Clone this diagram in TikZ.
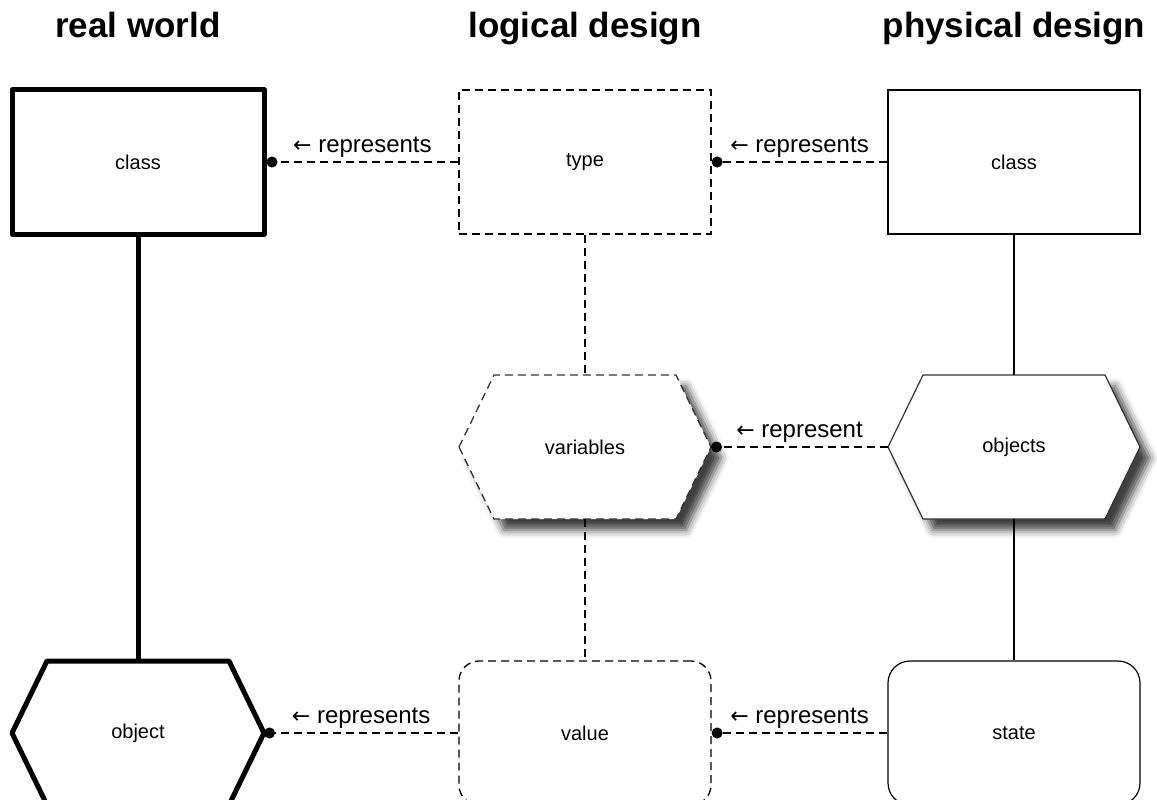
\documentclass[tikz,border=0pt]{standalone}
\usepackage{fontspec}
\setmainfont{Liberation Sans}
\newfontfamily\arrowfont{DejaVu Sans}
\usetikzlibrary{arrows.meta,shadows.blur,backgrounds}

% hexagon drawn over the bounding rectangle of a holder node
\newcommand\hexof[2]{%
  \path[#2] (#1.west) -- ([xshift=35pt]#1.north west) -- ([xshift=-35pt]#1.north east)
    -- (#1.east) -- ([xshift=-35pt]#1.south east) -- ([xshift=35pt]#1.south west) -- cycle;}
\newcommand\larrow{{\arrowfont\fontsize{22}{26}\selectfont ←}}

\tikzset{
  box/.style={draw, minimum width=252pt, minimum height=144pt, inner sep=0pt,
    font=\fontsize{20}{24}\selectfont},
  heavy/.style={line width=5pt, line join=round},
  thinline/.style={line width=1.2pt},
  dashy/.style={line width=1.3pt, dash pattern=on 8pt off 5pt},
  hexholder/.style={box, draw=none, outer sep=0pt},
  softshadow/.style={blur shadow={shadow xshift=10pt, shadow yshift=-11pt,
    shadow blur radius=8pt, shadow opacity=75}},
  link/.style={dashy, -{Circle[length=11pt]}},
  linklabel/.style={font=\fontsize{24}{28}\selectfont, anchor=base, yshift=10pt, inner sep=0pt},
  heading/.style={font=\bfseries\fontsize{35}{40}\selectfont, anchor=base},
}

\begin{document}
\begin{tikzpicture}[x=1pt, y=-1pt]
  \useasboundingbox (0,0) rectangle (1157,800);

  % column headings
  \node[heading] (hreal) at (138,38) {real world};
  \node[heading] (hlog) at (585,38) {logical design};
  \node[heading] (hphys) at (1014,38) {physical design};

  % real world
  \node[box, heavy] (rwclass) at (138,162) {class};
  \node[hexholder] (rwobj) at (138,733) {object};

  % logical design
  \node[box, dashy] (type) at (585,162) {type};
  \node[hexholder] (vars) at (585,447) {variables};
  \node[box, dashy, rounded corners=20pt] (value) at (585,733) {value};

  % physical design
  \node[box, thinline] (pclass) at (1014,162) {class};
  \node[hexholder] (objs) at (1014,447) {objects};
  \node[box, thinline, rounded corners=22pt] (state) at (1014,733) {state};

  \begin{scope}[on background layer]
    \hexof{rwobj}{heavy, draw, fill=white}
    \hexof{vars}{dashy, draw=black!80, fill=white, softshadow}
    \hexof{objs}{thinline, draw=black!80, fill=white, softshadow}
  \end{scope}

  % vertical links within each column
  \draw[heavy] (rwclass.south) -- (rwobj.north);
  \draw[dashy] (type.south) -- (vars.north);
  \draw[dashy] (vars.south) -- (value.north);
  \draw[thinline] (pclass.south) -- (objs.north);
  \draw[thinline] (objs.south) -- (state.north);

  % representation links
  \draw[link] (type.west) -- node[linklabel] (l1) {\larrow\ represents} (rwclass.east);
  \draw[link] (pclass.west) -- node[linklabel] (l2) {\larrow\ represents} (type.east);
  \draw[link] (objs.west) -- node[linklabel] (l3) {\larrow\ represent} (vars.east);
  \draw[link] (value.west) -- node[linklabel] (l4) {\larrow\ represents} (rwobj.east);
  \draw[link] (state.west) -- node[linklabel] (l5) {\larrow\ represents} (value.east);
\end{tikzpicture}
\end{document}
